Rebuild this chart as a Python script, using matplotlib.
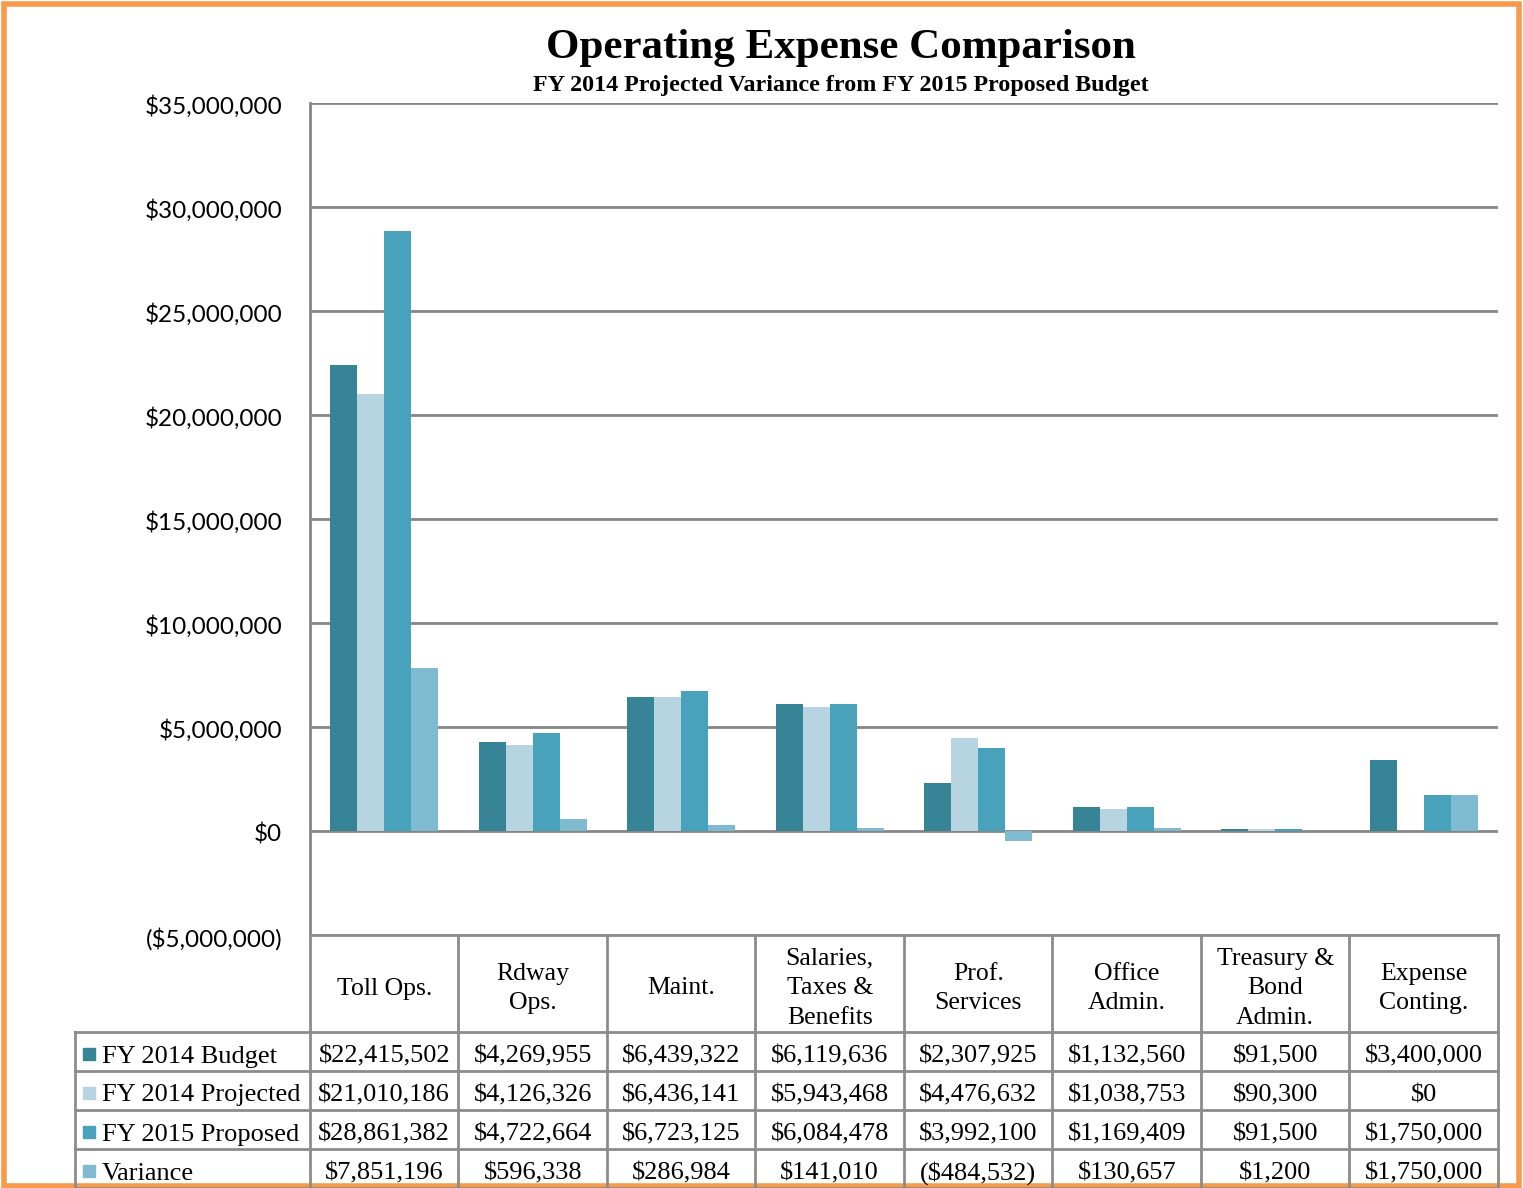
import matplotlib
matplotlib.use("Agg")
import matplotlib.pyplot as plt
import matplotlib.transforms as mtrans
from matplotlib.patches import Rectangle
from matplotlib.ticker import FuncFormatter
import numpy as np

categories = ["Toll Ops.", "Rdway\nOps.", "Maint.", "Salaries,\nTaxes &\nBenefits",
              "Prof.\nServices", "Office\nAdmin.", "Treasury &\nBond\nAdmin.", "Expense\nConting."]
series_names = ["FY 2014 Budget", "FY 2014 Projected", "FY 2015 Proposed", "Variance"]
fy14_budget = [22415502, 4269955, 6439322, 6119636, 2307925, 1132560, 91500, 3400000]
fy14_projected = [21010186, 4126326, 6436141, 5943468, 4476632, 1038753, 90300, 0]
fy15_proposed = [28861382, 4722664, 6723125, 6084478, 3992100, 1169409, 91500, 1750000]
variance = [7851196, 596338, 286984, 141010, -484532, 130657, 1200, 1750000]
series_values = [fy14_budget, fy14_projected, fy15_proposed, variance]
colors = ["#388497", "#b7d5e0", "#48a2bb", "#7fbad0"]
yticks = [-5000000, 0, 5000000, 10000000, 15000000, 20000000, 25000000, 30000000, 35000000]

W, H = 1523, 1188
fig = plt.figure(figsize=(W / 100, H / 100), dpi=100)
fig.patch.set_facecolor("white")

def money(v):
    if v < 0:
        return "(${:,.0f})".format(-v)
    return "${:,.0f}".format(v)

# chart axes
L, R, T, B = 310, 1498, 103, 935
ax = fig.add_axes([L / W, 1 - B / H, (R - L) / W, (B - T) / H])
n = len(categories)
x = np.arange(n)
bw = 0.182
for i, (vals, c) in enumerate(zip(series_values, colors)):
    ax.bar(x + (i - 1.5) * bw, vals, width=bw, color=c, edgecolor="none", zorder=3)
ax.set_xlim(-0.5, n - 0.5)
ax.set_ylim(-5000000, 35000000)
ax.set_yticks(yticks)
ax.yaxis.set_major_formatter(FuncFormatter(lambda v, p: money(v)))
ax.tick_params(axis="y", length=0, pad=20, labelsize=17.5, labelcolor="#000000")
shift = mtrans.ScaledTranslation(0, -4 / 100, fig.dpi_scale_trans)
for lab in ax.get_yticklabels():
    lab.set_fontfamily("Lato")
    lab.set_verticalalignment("center")
    lab.set_transform(lab.get_transform() + shift)
ax.set_xticks([])
ax.grid(axis="y", color="#868686", linewidth=2, zorder=1)
ax.set_axisbelow(True)
for s in ["top", "right", "bottom"]:
    ax.spines[s].set_visible(False)
ax.spines["left"].set_color("#868686")
ax.spines["left"].set_linewidth(2)

# overlay axes in pixel coordinates for the data table, titles and border
ov = fig.add_axes([0, 0, 1, 1])
ov.set_xlim(0, W)
ov.set_ylim(H, 0)
ov.axis("off")
ov.patch.set_alpha(0)

gc = "#8c8c8c"
lw = 2
col_edges = np.linspace(L, R, n + 1)
header_top, header_bot = 935, 1032
row_h = 39
rows_y = [header_bot + k * row_h for k in range(len(series_names) + 1)]
bottom = H
ov.plot([L, R], [header_top, header_top], color=gc, lw=lw)
for yy in rows_y:
    ov.plot([75, R], [yy, yy], color=gc, lw=lw)
for xe in col_edges:
    ov.plot([xe, xe], [header_top, bottom], color=gc, lw=lw)
ov.plot([75, 75], [header_bot, bottom], color=gc, lw=lw)

serif = "Liberation Serif"
for j, cat in enumerate(categories):
    cx = (col_edges[j] + col_edges[j + 1]) / 2
    ov.text(cx, (header_top + header_bot) / 2 + 5, cat, ha="center", va="center",
            fontsize=18.5, family=serif, linespacing=1.45)
for i, (name, vals, c) in enumerate(zip(series_names, series_values, colors)):
    cy = rows_y[i] + row_h / 2 + 5
    ov.add_patch(Rectangle((83, cy - 9), 12, 12, color=c))
    ov.text(102, cy, name, ha="left", va="center", fontsize=19, family=serif)
    for j, v in enumerate(vals):
        cx = (col_edges[j] + col_edges[j + 1]) / 2
        ov.text(cx, cy, money(v), ha="center", va="center", fontsize=19, family=serif)

# titles
ov.text(841, 48, "Operating Expense Comparison", ha="center", va="center",
        fontsize=31, family=serif, fontweight="bold")
ov.text(841, 86, "FY 2014 Projected Variance from FY 2015 Proposed Budget", ha="center",
        va="center", fontsize=17.3, family=serif, fontweight="bold")

# orange border
ov.add_patch(Rectangle((4, 4), W - 8, H - 6, fill=False, edgecolor="#f79a4c", lw=4))

fig.savefig("out.png", dpi=100)
